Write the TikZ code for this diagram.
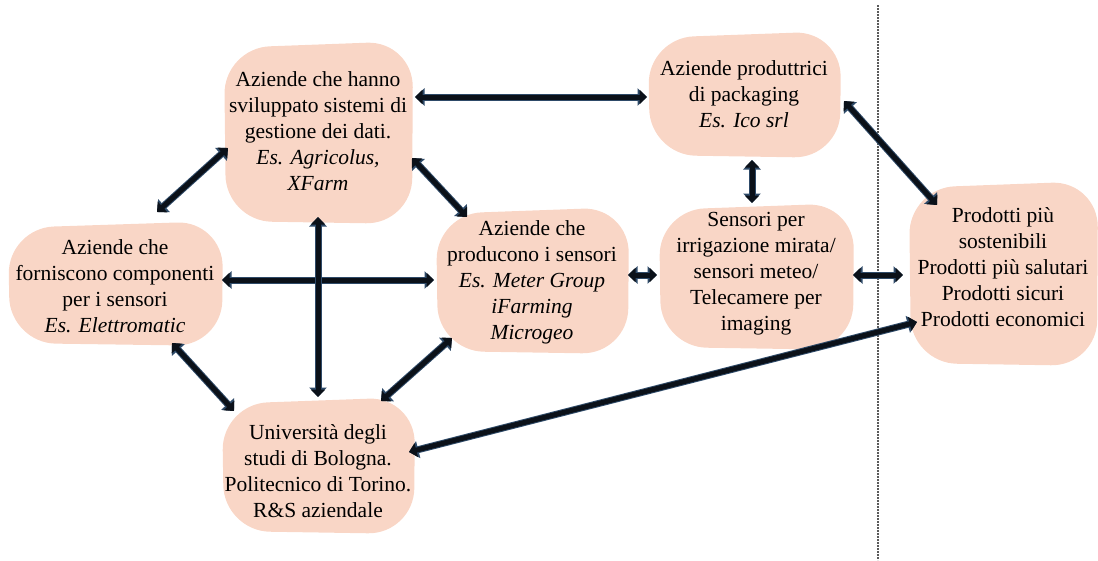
\documentclass[tikz,border=0pt]{standalone}
\usepackage{fontspec}
\setmainfont{Liberation Serif}
\usetikzlibrary{arrows.meta,backgrounds,calc}
\definecolor{boxfill}{HTML}{F9D6C6}
\definecolor{arrowdark}{HTML}{0B1119}
\definecolor{arrowedge}{HTML}{2E4A68}
\definecolor{dashcol}{HTML}{5A5A5A}
\tikzset{
  box/.style={align=center, inner sep=0pt, font=\fontsize{21.5}{26}\selectfont, text=black},
  arr/.style={draw=arrowdark, line width=5pt,
    {Triangle[width=14pt,length=7.5pt]}-{Triangle[width=14pt,length=7.5pt]},
    preaction={draw=arrowedge, line width=7pt,
      {Triangle[width=17pt,length=9.5pt]}-{Triangle[width=17pt,length=9.5pt]}}},
  divider/.style={draw=dashcol, line width=1.2pt, dash pattern=on 1.6pt off 1.4pt}
}
% name, left, top, right, bottom (relative to node centre, pixels)
\newcommand\blobshape[5]{%
  \fill[boxfill, rounded corners=46pt]
    ([shift={(#2,#3+6)}]#1.center) -- ([shift={(#4+1,#3-1)}]#1.center) --
    ([shift={(#4,#5)}]#1.center) -- ([shift={(#2+2,#5-3)}]#1.center) -- cycle;}
\begin{document}
\begin{tikzpicture}[x=1pt,y=-1pt]
\useasboundingbox (0,0) rectangle (1098,560);

\draw[divider] (878,5) -- (878,560);

\node[box] (A) at (318,131) {Aziende che hanno\\sviluppato sistemi di\\gestione dei dati.\\\textit{Es. Agricolus,}\\\textit{XFarm}};
\node[box] (B) at (115,286) {Aziende che\\forniscono componenti\\per i sensori\\\textit{Es. Elettromatic}};
\node[box] (C) at (532,282) {Aziende che\\producono i sensori\\\textit{Es. Meter Group}\\\textit{iFarming}\\\textit{Microgeo}};
\node[box] (D) at (744,94) {Aziende produttrici\\di packaging\\\textit{Es. Ico srl}};
\node[box] (E) at (756,274) {Sensori per\\irrigazione mirata/\\sensori meteo/\\Telecamere per\\imaging};
\node[box] (F) at (1003,267) {Prodotti più\\sostenibili\\Prodotti più salutari\\Prodotti sicuri\\Prodotti economici};
\node[box] (G) at (318,471) {Università degli\\studi di Bologna.\\Politecnico di Torino.\\R\&S aziendale};

\begin{pgfonlayer}{background}
  \blobshape{A}{-94}{-89}{94}{93}
  \blobshape{B}{-107}{-64}{107}{60}
  \blobshape{C}{-96}{-74}{96}{72}
  \blobshape{D}{-96}{-62}{96}{64}
  \blobshape{E}{-97}{-70}{97}{76}
  \blobshape{F}{-94}{-85}{94}{99}
  \blobshape{G}{-96}{-73}{96}{63}
\end{pgfonlayer}

\draw[arr] ([shift={(97,-34)}]A.center) -- ([shift={(-97,3)}]D.center);
\draw[arr] ([shift={(42,-74)}]B.center) -- ([shift={(-90,17)}]A.center);
\draw[arr] ([shift={(94,27)}]A.center) -- ([shift={(-65,-65)}]C.center);
\draw[arr] ([shift={(107,-6)}]B.center) -- ([shift={(-98,-2)}]C.center);
\draw[arr] ([shift={(0,86)}]A.center) -- ([shift={(0,-74)}]G.center);
\draw[arr] ([shift={(57,57)}]B.center) -- ([shift={(-84,-60)}]G.center);
\draw[arr] ([shift={(-80,56)}]C.center) -- ([shift={(63,-70)}]G.center);
\draw[arr] ([shift={(96,-7)}]C.center) -- ([shift={(-99,1)}]E.center);
\draw[arr] ([shift={(8,66)}]D.center) -- ([shift={(-4,-71)}]E.center);
\draw[arr] ([shift={(97,1)}]E.center) -- ([shift={(-100,8)}]F.center);
\draw[arr] ([shift={(100,7)}]D.center) -- ([shift={(-66,-62)}]F.center);
\draw[arr] ([shift={(91,-19)}]G.center) -- ([shift={(-86,55)}]F.center);
\end{tikzpicture}
\end{document}
